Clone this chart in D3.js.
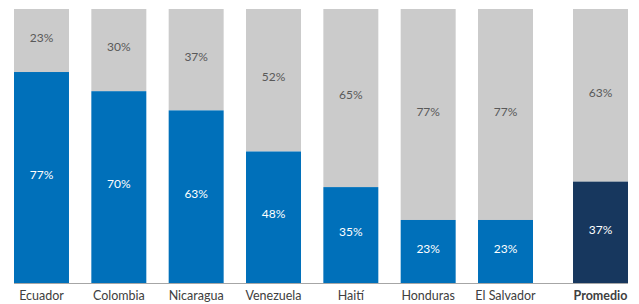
<!DOCTYPE html>
<html>
<head>
<meta charset="utf-8">
<script src="https://cdn.jsdelivr.net/npm/d3@7"></script>
<style>
  body { margin: 0; background: #fff; }
  svg { display: block; font-family: Lato, "Open Sans", sans-serif; }
</style>
</head>
<body>
<svg id="chart" width="639" height="304"></svg>
<script>
// categories and values (percent)
var countries = ["Ecuador", "Colombia", "Nicaragua", "Venezuela", "Haití", "Honduras", "El Salvador"];
var avgLabel = "Promedio";
var blueVals = [77, 70, 63, 48, 35, 23, 23];
var greyVals = [23, 30, 37, 52, 65, 77, 77];
var avgBlue = 37;
var avgGrey = 63;

var svg = d3.select("#chart"),
    margin = {top: 9, bottom: 21, left: 14, right: 11},
    height = +svg.attr("height") - margin.top - margin.bottom;

// rows: countries then average
var rows = countries.map(function(c, i) {
    return {name: c, blue: blueVals[i], grey: greyVals[i], avg: false};
});
rows.push({name: avgLabel, blue: avgBlue, grey: avgGrey, avg: true});

// band scale for countries, extra gap before average bar
var x = d3.scaleBand()
    .domain(countries)
    .range([margin.left, 533])
    .paddingInner(0.289)
    .paddingOuter(0);
var avgGap = 95;
function xPos(d) {
    if (d.avg) return x(countries[countries.length - 1]) + avgGap;
    return x(d.name);
}

var y = d3.scaleLinear().domain([0, 100]).range([margin.top + height, margin.top]);

var g = svg.append("g");

// grey (upper) segment
g.selectAll(".grey")
    .data(rows)
    .enter().append("rect")
    .attr("class", "grey")
    .attr("x", xPos)
    .attr("width", x.bandwidth())
    .attr("y", y(100))
    .attr("height", function(d) { return y(d.blue) - y(100); })
    .attr("fill", "#cbcbcb");

// blue (lower) segment
g.selectAll(".blue")
    .data(rows)
    .enter().append("rect")
    .attr("class", "blue")
    .attr("x", xPos)
    .attr("width", x.bandwidth())
    .attr("y", function(d) { return y(d.blue); })
    .attr("height", function(d) { return y(0) - y(d.blue); })
    .attr("fill", function(d) { return d.avg ? "#17375e" : "#0070ba"; });

// value labels (slightly above segment centre)
g.selectAll(".lblGrey")
    .data(rows)
    .enter().append("text")
    .attr("x", function(d) { return xPos(d) + x.bandwidth() / 2; })
    .attr("y", function(d) { return (y(100) + y(d.blue)) / 2 - 3; })
    .attr("dy", "0.35em")
    .attr("text-anchor", "middle")
    .attr("font-size", "12px")
    .attr("fill", "#595959")
    .text(function(d) { return d.grey + "%"; });

g.selectAll(".lblBlue")
    .data(rows)
    .enter().append("text")
    .attr("x", function(d) { return xPos(d) + x.bandwidth() / 2; })
    .attr("y", function(d) { return (y(d.blue) + y(0)) / 2 - 3; })
    .attr("dy", "0.35em")
    .attr("text-anchor", "middle")
    .attr("font-size", "12px")
    .attr("fill", "#ffffff")
    .text(function(d) { return d.blue + "%"; });

// baseline
svg.append("line")
    .attr("x1", margin.left)
    .attr("x2", xPos(rows[rows.length - 1]) + x.bandwidth())
    .attr("y1", y(0) + 0.5)
    .attr("y2", y(0) + 0.5)
    .attr("stroke", "#a6a6a6")
    .attr("stroke-width", 1);

// category labels
svg.selectAll(".cat")
    .data(rows)
    .enter().append("text")
    .attr("x", function(d) { return xPos(d) + x.bandwidth() / 2; })
    .attr("y", y(0) + 17)
    .attr("text-anchor", "middle")
    .attr("font-size", "12.5px")
    .attr("font-weight", function(d) { return d.avg ? "bold" : "normal"; })
    .attr("fill", "#404040")
    .text(function(d) { return d.name; });
</script>
</body>
</html>
